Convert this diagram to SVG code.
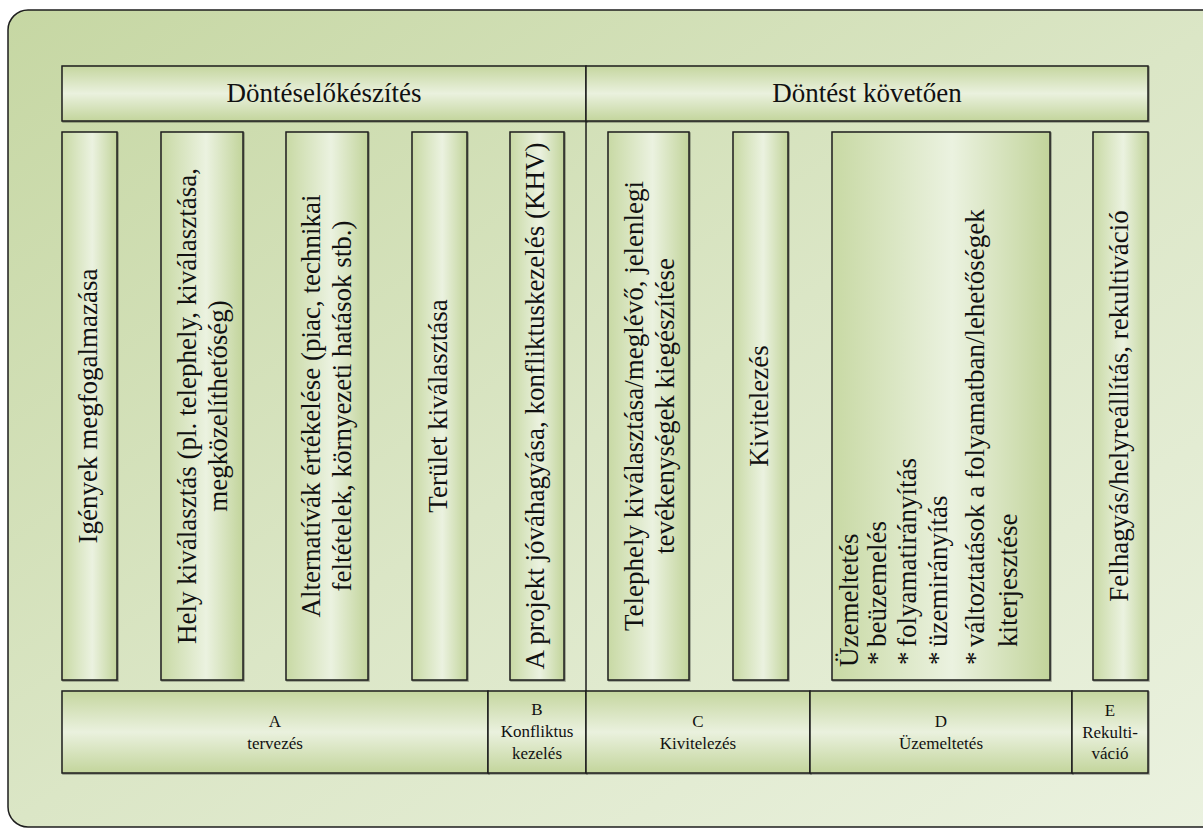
<svg xmlns="http://www.w3.org/2000/svg" width="1203" height="828" viewBox="0 0 1203 828">
  <style>
    .box { stroke: #1e1e1e; stroke-width: 1.5; filter: url(#shadow); }
    .col { fill: url(#colFill); }
    .bar { fill: url(#barFill); }
    .t { font-family: "Liberation Serif", serif; fill: #111; }
    .big { font-size: 27px; }
    .small { font-size: 17px; text-anchor: middle; }
    .mid { text-anchor: middle; }
  </style>
  <defs>
    <linearGradient id="bgFill" x1="0" y1="0" x2="1" y2="1">
      <stop offset="0" stop-color="#c6d7a3"/>
      <stop offset="0.5" stop-color="#dbe6c6"/>
      <stop offset="1" stop-color="#ebf2e0"/>
    </linearGradient>
    <linearGradient id="colFill" x1="0" y1="0" x2="1" y2="0">
      <stop offset="0" stop-color="#c8d9a4"/>
      <stop offset="0.55" stop-color="#ebf2e0"/>
      <stop offset="1" stop-color="#c2d49b"/>
    </linearGradient>
    <linearGradient id="barFill" x1="0" y1="0" x2="0" y2="1">
      <stop offset="0" stop-color="#c5d69f"/>
      <stop offset="0.5" stop-color="#eaf1de"/>
      <stop offset="1" stop-color="#c3d59c"/>
    </linearGradient>
    <filter id="shadow" x="-5%" y="-5%" width="110%" height="110%">
      <feDropShadow dx="1" dy="1" stdDeviation="0.6" flood-color="#000" flood-opacity="0.35"/>
    </filter>
  </defs>

  <!-- frame -->
  <rect x="8" y="10" width="1230" height="817" rx="20" ry="20" fill="url(#bgFill)" stroke="#1e1e1e" stroke-width="1.5"/>

  <!-- header bars -->
  <g id="hdr-dontes-elokeszites">
    <rect class="box bar" x="62" y="66" width="524" height="55"/>
    <text class="t big mid" x="324" y="101.5">Döntéselőkészítés</text>
  </g>
  <g id="hdr-dontest-kovetoen">
    <rect class="box bar" x="586" y="66" width="562" height="55"/>
    <text class="t big mid" x="867" y="101.5">Döntést követően</text>
  </g>

  <!-- activity columns -->
  <g id="col-igenyek">
    <rect class="box col" x="62" y="132" width="55" height="548"/>
    <text class="t big mid" transform="translate(96.5,406) rotate(-90)">Igények megfogalmazása</text>
  </g>
  <g id="col-hely">
    <rect class="box col" x="161" y="132" width="82" height="548"/>
    <text class="t big mid" transform="translate(196,406) rotate(-90)">Hely kiválasztás (pl. telephely, kiválasztása,</text>
    <text class="t big mid" transform="translate(227,406) rotate(-90)">megközelíthetőség)</text>
  </g>
  <g id="col-alternativak">
    <rect class="box col" x="286" y="132" width="82" height="548"/>
    <text class="t big mid" transform="translate(320,406) rotate(-90)">Alternatívák értékelése (piac, technikai</text>
    <text class="t big mid" transform="translate(351,406) rotate(-90)">feltételek, környezeti hatások stb.)</text>
  </g>
  <g id="col-terulet">
    <rect class="box col" x="412" y="132" width="55" height="548"/>
    <text class="t big mid" transform="translate(446.5,406) rotate(-90)">Terület kiválasztása</text>
  </g>
  <g id="col-khv">
    <rect class="box col" x="510" y="132" width="54" height="548"/>
    <text class="t big mid" transform="translate(544,406) rotate(-90)">A projekt jóváhagyása, konfliktuskezelés (KHV)</text>
  </g>
  <g id="col-telephely">
    <rect class="box col" x="608" y="132" width="81" height="548"/>
    <text class="t big mid" transform="translate(642.5,406) rotate(-90)">Telephely kiválasztása/meglévő, jelenlegi</text>
    <text class="t big mid" transform="translate(673.5,406) rotate(-90)">tevékenységek kiegészítése</text>
  </g>
  <g id="col-kivitelezes">
    <rect class="box col" x="733" y="132" width="55" height="548"/>
    <text class="t big mid" transform="translate(767.5,406) rotate(-90)">Kivitelezés</text>
  </g>
  <g id="col-uzemeltetes">
    <rect class="box col" x="832" y="132" width="218" height="548"/>
    <g class="t big" transform="rotate(-90)">
      <text x="-667" y="858">Üzemeltetés</text>
      <text x="-665" y="885.5">*</text>
      <text x="-647" y="885.5">beüzemelés</text>
      <text x="-665" y="916">*</text>
      <text x="-647" y="916">folyamatirányítás</text>
      <text x="-665" y="946.5">*</text>
      <text x="-647" y="946.5">üzemirányítás</text>
      <text x="-665" y="984">*</text>
      <text x="-647" y="984">változtatások a folyamatban/lehetőségek</text>
      <text x="-647" y="1017">kiterjesztése</text>
    </g>
  </g>
  <g id="col-felhagyas">
    <rect class="box col" x="1093" y="132" width="55" height="548"/>
    <text class="t big mid" transform="translate(1127.5,406) rotate(-90)">Felhagyás/helyreállítás, rekultiváció</text>
  </g>

  <!-- phase bars -->
  <g id="phase-a">
    <rect class="box bar" x="62" y="691" width="426" height="82"/>
    <text class="t small" x="275" y="726.5">A</text>
    <text class="t small" x="275" y="748.5">tervezés</text>
  </g>
  <g id="phase-b">
    <rect class="box bar" x="488" y="691" width="98" height="82"/>
    <text class="t small" x="537" y="715">B</text>
    <text class="t small" x="537" y="737">Konfliktus</text>
    <text class="t small" x="537" y="758.5">kezelés</text>
  </g>
  <g id="phase-c">
    <rect class="box bar" x="586" y="691" width="224" height="82"/>
    <text class="t small" x="698" y="726.5">C</text>
    <text class="t small" x="698" y="748.5">Kivitelezés</text>
  </g>
  <g id="phase-d">
    <rect class="box bar" x="810" y="691" width="262" height="82"/>
    <text class="t small" x="941" y="726.5">D</text>
    <text class="t small" x="941" y="748.5">Üzemeltetés</text>
  </g>
  <g id="phase-e">
    <rect class="box bar" x="1072" y="691" width="76" height="82"/>
    <text class="t small" x="1110" y="716">E</text>
    <text class="t small" x="1110" y="737.5">Rekulti-</text>
    <text class="t small" x="1110" y="758.5">váció</text>
  </g>

  <!-- separator between the two halves -->
  <g id="connectors">
    <line x1="586" y1="121" x2="586" y2="691" stroke="#1e1e1e" stroke-width="1.5"/>
  </g>
</svg>
